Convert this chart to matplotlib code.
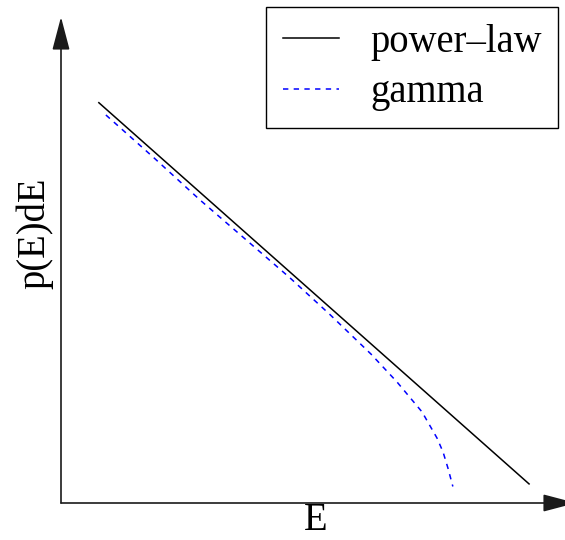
import matplotlib
matplotlib.use("Agg")
import matplotlib.pyplot as plt

plt.rcParams['font.family'] = ['Liberation Serif', 'DejaVu Serif']

# Power-law distribution: straight line on log-log axes
powerlaw_E = [1.68, 611.0]
powerlaw_p = [0.0875, 1.72e-6]

# Gamma distribution: same slope at low energy, exponential cut-off at high energy
gamma_E = [1.85, 3.53, 6.72, 13.3, 23.1, 39.9, 70.0, 100.0, 141.0, 173.0, 188.0, 201.0, 215.0]
gamma_p = [0.0617, 0.0187, 0.00551, 0.00162, 6.0e-4, 2.12e-4, 6.9e-5, 3.12e-5,
           1.33e-5, 6.34e-6, 4.26e-6, 2.70e-6, 1.60e-6]

E_limits = (1.0, 1000.0)
p_limits = (10 ** (-486 / 81), 1.0)

W, H = 565, 540
fig = plt.figure(figsize=(W / 100, H / 100), dpi=100)
ax = fig.add_axes([61 / W, 37 / H, 504 / W, 486 / H])
ax.set_xscale('log')
ax.set_yscale('log')
ax.set_xlim(*E_limits)
ax.set_ylim(*p_limits)

ax.plot(powerlaw_E, powerlaw_p, color='black', lw=1.1, label='power\u2013law')
ax.plot(gamma_E, gamma_p, color='#0000ff', lw=1.1, ls=(0, (3.5, 3.5)), label='gamma')

for s in ax.spines.values():
    s.set_visible(False)
ax.set_xticks([])
ax.set_yticks([])
ax.minorticks_off()
ax.tick_params(which='both', length=0, labelbottom=False, labelleft=False)

arrow_style = dict(arrowstyle='-|>,head_length=20.5,head_width=5.4',
                   mutation_scale=1, color='#1a1a1a', lw=1.2,
                   shrinkA=0, shrinkB=0)
ax.annotate('', xy=(0, 1), xytext=(0, 0), xycoords='axes fraction',
            arrowprops=arrow_style, annotation_clip=False)
ax.annotate('', xy=(1 + 11 / 504, 0), xytext=(0, 0), xycoords='axes fraction',
            arrowprops=arrow_style, annotation_clip=False)

fs = 27.8
fig.text(316 / W, 1 - 520 / H, 'E', fontsize=fs, ha='center', va='center')
fig.text(35 / W, 1 - 233 / H, 'p(E)dE', fontsize=fs, ha='center', va='center',
         rotation=90)

leg = ax.legend(loc='upper right', bbox_to_anchor=(558 / W, 1 - 7 / H),
                bbox_transform=fig.transFigure, borderaxespad=0,
                fontsize=fs, frameon=True, fancybox=False, framealpha=1,
                edgecolor='black', handlelength=1.47, handletextpad=0.79,
                labelspacing=0.35, borderpad=0.43)
leg.get_frame().set_linewidth(1.0)

fig.savefig('out.png', dpi=100)
